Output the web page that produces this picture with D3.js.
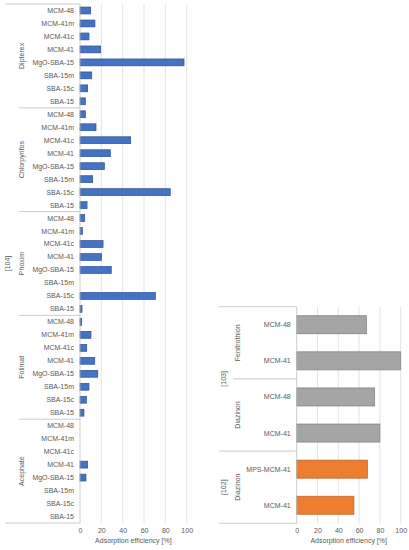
<!DOCTYPE html>
<html>
<head>
<meta charset="utf-8">
<script src="https://cdn.jsdelivr.net/npm/d3@7"></script>
<style>
    body { margin: 0; background: #fff; }
    svg text { font-family: "Liberation Sans", Arial, sans-serif; fill: #595959; }
</style>
</head>
<body>
<div id="chart"></div>
<script>
// left panel, ref [104]
const leftRef = "[104]";
const leftPesticides = ["Dipterex", "Chlorpyrifos", "Phoxim", "Folimat", "Acephate"];
const leftSamples = ["MCM-48", "MCM-41m", "MCM-41c", "MCM-41", "MgO-SBA-15", "SBA-15m", "SBA-15c", "SBA-15"];
const dipterex = [10, 14, 8.4, 19.4, 97.5, 11, 7.2, 5];
const chlorpyrifos = [5, 15, 47.5, 28.4, 22.8, 11.9, 84.6, 6.6];
const phoxim = [4.4, 2.2, 21.6, 20, 29.3, 0, 70.6, 1.9];
const folimat = [1.6, 10.3, 6.3, 13.8, 16.6, 8.4, 6, 3.7];
const acephate = [0, 0, 0, 7.2, 5.6, 0, 0, 0];
const leftValues = [dipterex, chlorpyrifos, phoxim, folimat, acephate];

// right panel, refs [103] and [102]
const rightRefs = ["[103]", "[102]"];
const rightPesticides = [["Fenitrothion", "Diazinon"], ["Diazinon"]];
const rightSamples = [[["MCM-48", "MCM-41"], ["MCM-48", "MCM-41"]], [["MPS-MCM-41", "MCM-41"]]];
const fenitrothion103 = [67, 100];
const diazinon103 = [75, 80];
const diazinon102 = [68, 55];
const rightValues = [[fenitrothion103, diazinon103], [diazinon102]];
const rightColors = [["#a5a5a5", "#7c7c7c"], ["#ed7d31", "#b65f23"]];

const xTicks = [0, 20, 40, 60, 80, 100];
const xTitle = "Adsorption efficiency [%]";

const svg = d3.select("#chart").append("svg")
    .attr("width", 409)
    .attr("height", 550);

function panel(opts) {
    // flatten nested categories into rows
    const rows = [];
    opts.refs.forEach((ref, r) => {
        opts.pesticides[r].forEach((p, i) => {
            opts.samples[r][i].forEach((s, j) => {
                rows.push({ref: ref, refIdx: r, pest: p, key: r + "|" + p + "|" + j, sample: s, value: opts.values[r][i][j]});
            });
        });
    });

    const x = d3.scaleLinear().domain([0, 100]).range([opts.x0, opts.x1]);
    const y = d3.scaleBand()
        .domain(rows.map(d => d.key))
        .range([opts.top, opts.bottom])
        .paddingInner(opts.pad)
        .paddingOuter(opts.pad / 2);
    const step = y.step();

    const g = svg.append("g");

    // vertical gridlines
    g.selectAll(".grid")
        .data(xTicks.slice(1))
        .join("line")
        .attr("x1", d => x(d)).attr("x2", d => x(d))
        .attr("y1", opts.top).attr("y2", opts.bottom)
        .attr("stroke", "#d9d9d9")
        .attr("stroke-width", 0.75);

    // bars
    g.selectAll(".bar")
        .data(rows)
        .join("rect")
        .attr("x", x(0))
        .attr("y", d => y(d.key))
        .attr("width", d => x(d.value) - x(0))
        .attr("height", y.bandwidth())
        .attr("fill", d => opts.colors[d.refIdx][0])
        .attr("stroke", d => d.value > 0 ? opts.colors[d.refIdx][1] : "none")
        .attr("stroke-width", 0.7);

    // category axis line
    g.append("line")
        .attr("x1", x(0)).attr("x2", x(0))
        .attr("y1", opts.top).attr("y2", opts.bottom)
        .attr("stroke", "#bfbfbf")
        .attr("stroke-width", 0.8);

    // sample labels
    g.selectAll(".lab")
        .data(rows)
        .join("text")
        .attr("x", x(0) - 6)
        .attr("y", d => y(d.key) + y.bandwidth() / 2)
        .attr("dy", "0.35em")
        .attr("text-anchor", "end")
        .attr("font-size", 7)
        .text(d => d.sample);

    // group levels
    const rowTop = (i) => opts.top + step * i;
    let idx = 0;
    const pestSpans = [], refSpans = [];
    opts.refs.forEach((ref, r) => {
        const refStart = idx;
        opts.pesticides[r].forEach((p, i) => {
            const n = opts.samples[r][i].length;
            pestSpans.push({name: p, a: idx, b: idx + n, last: i === opts.pesticides[r].length - 1});
            idx += n;
        });
        refSpans.push({name: ref, a: refStart, b: idx});
    });

    // separators
    const lines = [];
    refSpans.forEach((s, i) => {
        if (i === 0) lines.push({y: rowTop(s.a), x: opts.refLineX});
        lines.push({y: rowTop(s.b), x: opts.refLineX});
    });
    pestSpans.forEach(s => {
        if (!s.last) lines.push({y: rowTop(s.b), x: opts.pestLineX});
    });
    g.selectAll(".sep")
        .data(lines)
        .join("line")
        .attr("x1", d => d.x).attr("x2", x(0))
        .attr("y1", d => d.y).attr("y2", d => d.y)
        .attr("stroke", "#bfbfbf")
        .attr("stroke-width", 0.8);

    g.selectAll(".pest")
        .data(pestSpans)
        .join("text")
        .attr("transform", d => `translate(${opts.pestX},${(rowTop(d.a) + rowTop(d.b)) / 2}) rotate(-90)`)
        .attr("dy", "0.35em")
        .attr("text-anchor", "middle")
        .attr("font-size", 7)
        .text(d => d.name);

    g.selectAll(".ref")
        .data(refSpans)
        .join("text")
        .attr("transform", d => `translate(${opts.refX},${(rowTop(d.a) + rowTop(d.b)) / 2}) rotate(-90)`)
        .attr("dy", "0.35em")
        .attr("text-anchor", "middle")
        .attr("font-size", 7)
        .text(d => d.name);

    // value axis
    const axis = g.append("g")
        .attr("transform", `translate(0,${opts.bottom})`)
        .call(d3.axisBottom(x).tickValues(xTicks).tickSize(0).tickPadding(5));
    axis.select(".domain").remove();
    axis.selectAll("text")
        .attr("font-size", 7)
        .attr("fill", "#595959")
        .style("font-family", "Liberation Sans, Arial, sans-serif");

    g.append("text")
        .attr("x", (opts.x0 + opts.x1) / 2)
        .attr("y", opts.bottom + 20)
        .attr("text-anchor", "middle")
        .attr("font-size", 7)
        .text(xTitle);
}

panel({
    refs: [leftRef],
    pesticides: [leftPesticides],
    samples: [leftPesticides.map(() => leftSamples)],
    values: [leftValues],
    colors: [["#4472c4", "#2f528f"]],
    x0: 80, x1: 186.7,
    top: 4, bottom: 523,
    pad: 0.47,
    refLineX: 5, pestLineX: 19,
    pestX: 22, refX: 8
});

panel({
    refs: rightRefs,
    pesticides: rightPesticides,
    samples: rightSamples,
    values: rightValues,
    colors: rightColors,
    x0: 296.7, x1: 400.7,
    top: 306.7, bottom: 523.3,
    pad: 0.5,
    refLineX: 219, pestLineX: 233,
    pestX: 238, refX: 224
});
</script>
</body>
</html>
